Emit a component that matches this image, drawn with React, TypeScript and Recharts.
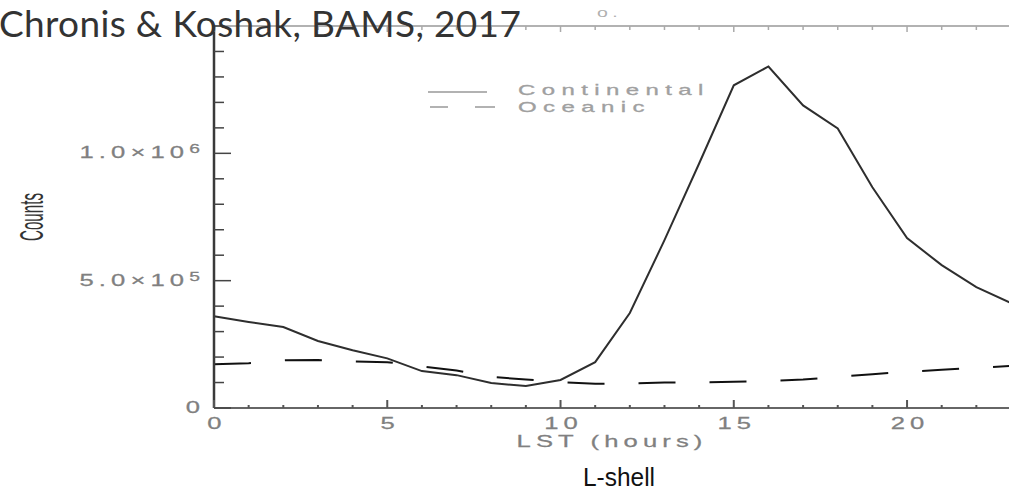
import React from 'react';
import { LineChart, Line, XAxis, YAxis, Legend } from 'recharts';

// local solar time, one point per hour
const hours = [0, 1, 2, 3, 4, 5, 6, 7, 8, 9, 10, 11, 12, 13, 14, 15, 16, 17, 18, 19, 20, 21, 22, 23];

const continental = [
  360000, 338000, 318000, 263000, 227000, 195000, 145000, 129000, 98000, 86000, 110000, 180000,
  373000, 659000, 960000, 1267000, 1341000, 1188000, 1098000, 867000, 667000, 561000, 475000, 412000,
];

const oceanic = [
  172000, 176000, 187000, 188000, 183000, 180000, 163000, 147000, 122000, 112000, 102000, 95000,
  96000, 100000, 101000, 103000, 106000, 112000, 122000, 133000, 142000, 150000, 158000, 165000,
];

const xMajor = [0, 5, 10, 15, 20];
const yTicks = [0, 100000, 200000, 300000, 400000, 500000, 600000, 700000, 800000, 900000,
  1000000, 1100000, 1200000, 1300000, 1400000, 1500000];
const yLabels: Record<number, [string, string]> = {
  0: ['0', ''],
  500000: ['5.0×10', '5'],
  1000000: ['1.0×10', '6'],
};

const seriesNames = { continental: 'Continental', oceanic: 'Oceanic' };

const data = hours.map((h, i) => ({ hour: h, continental: continental[i], oceanic: oceanic[i] }));

const labelFont = {
  fontFamily: '"Liberation Sans", Arial, sans-serif',
  fontSize: 16,
  fill: '#808080',
  stroke: '#808080',
  strokeWidth: 0.25,
  letterSpacing: 3.2,
};

function BottomTick(props: any) {
  const { x, y, payload } = props;
  const major = xMajor.includes(payload.value);
  return (
    <g>
      <line x1={x} x2={x} y1={y} y2={y - (major ? 8 : 3)} stroke="#555" strokeWidth={2} />
      {major && (
        <g transform={`translate(${x + 3},${y + 21}) scale(1.6,1)`}>
          <text textAnchor="middle" {...labelFont}>{payload.value}</text>
        </g>
      )}
    </g>
  );
}

function TopTick(props: any) {
  const { x, y, payload } = props;
  const major = xMajor.includes(payload.value);
  return <line x1={x} x2={x} y1={y} y2={y + (major ? 6 : 4)} stroke="#aaa" strokeWidth={1.5} />;
}

function LeftTick(props: any) {
  const { x, y, payload } = props;
  const label = yLabels[payload.value];
  return (
    <g>
      <line x1={x} x2={x + (label ? 17 : 10)} y1={y} y2={y} stroke="#444" strokeWidth={1.5} />
      {label && (
        <g transform={`translate(${x - 9},${y + 5}) scale(1.6,1)`}>
          <text textAnchor="end" {...labelFont}>
            {label[0]}
            {label[1] && (
              <tspan fontSize={12} dy={-5}>{label[1]}</tspan>
            )}
          </text>
        </g>
      )}
    </g>
  );
}

function RightTick(props: any) {
  const { x, y, payload } = props;
  const major = payload.value % 500000 === 0;
  return <line x1={x} x2={x - (major ? 16 : 12)} y1={y} y2={y} stroke="#555" strokeWidth={1.5} />;
}

function LegendBox() {
  const text = {
    fontFamily: '"Liberation Sans", Arial, sans-serif',
    fontSize: 15,
    fill: '#a0a0a0',
    stroke: '#a0a0a0',
    strokeWidth: 0.3,
    letterSpacing: 4,
  };
  return (
    <svg width={320} height={40}>
      <line x1={8} x2={67} y1={14} y2={14} stroke="#999" strokeWidth={1.5} />
      <line x1={10} x2={28} y1={29} y2={29} stroke="#999" strokeWidth={1.5} />
      <line x1={55} x2={75} y1={29} y2={29} stroke="#999" strokeWidth={1.5} />
      <g transform="translate(98,17) scale(1.6,1)">
        <text {...text}>{seriesNames.continental}</text>
      </g>
      <g transform="translate(98,34) scale(1.6,1)">
        <text {...text}>{seriesNames.oceanic}</text>
      </g>
    </svg>
  );
}

export default function App() {
  return (
    <div style={{ position: 'absolute', left: 0, top: 0, width: 1009, height: 492, overflow: 'hidden', background: '#fff' }}>
      <LineChart width={1020} height={492} data={data} margin={{ top: 25, right: 8, left: 213, bottom: 83 }}>
        <XAxis
          dataKey="hour"
          type="number"
          domain={[0, 23]}
          ticks={hours}
          interval={0}
          height={1}
          tickSize={0}
          tickMargin={0}
          tickLine={false}
          axisLine={{ stroke: '#666', strokeWidth: 2 }}
          tick={<BottomTick />}
        />
        <XAxis
          xAxisId="top"
          orientation="top"
          dataKey="hour"
          type="number"
          domain={[0, 23]}
          ticks={hours}
          interval={0}
          height={1}
          tickSize={0}
          tickMargin={0}
          tickLine={false}
          axisLine={{ stroke: '#999', strokeWidth: 1.5 }}
          tick={<TopTick />}
        />
        <YAxis
          type="number"
          domain={[0, 1500000]}
          ticks={yTicks}
          interval={0}
          width={1}
          tickSize={0}
          tickMargin={0}
          tickLine={false}
          axisLine={{ stroke: '#3a3a3a', strokeWidth: 2.5 }}
          tick={<LeftTick />}
        />
        <YAxis
          yAxisId="right"
          orientation="right"
          type="number"
          domain={[0, 1500000]}
          ticks={yTicks}
          interval={0}
          width={1}
          tickSize={0}
          tickMargin={0}
          tickLine={false}
          axisLine={{ stroke: '#666', strokeWidth: 2 }}
          tick={<RightTick />}
        />
        <Legend
          layout="vertical"
          align="center"
          verticalAlign="middle"
          wrapperStyle={{ left: 420, top: 78, width: 320 }}
          content={() => <LegendBox />}
        />
        <Line
          dataKey="continental"
          name={seriesNames.continental}
          stroke="#2e2e2e"
          strokeWidth={2}
          dot={false}
          isAnimationActive={false}
        />
        <Line
          dataKey="oceanic"
          name={seriesNames.oceanic}
          stroke="#111"
          strokeWidth={2}
          strokeDasharray="37 34"
          dot={false}
          isAnimationActive={false}
        />
      </LineChart>

      {/* axis titles and caption */}
      <svg width={1009} height={492} style={{ position: 'absolute', left: 0, top: 0, pointerEvents: 'none' }}>
        <text
          x={43}
          y={217}
          transform="rotate(-90 43 217)"
          textAnchor="middle"
          fontFamily='"Liberation Sans", Arial, sans-serif'
          fontSize={34}
          textLength={48}
          lengthAdjust="spacingAndGlyphs"
          fill="#333"
        >
          Counts
        </text>
        <g transform="translate(612,447) scale(1.6,1)">
          <text textAnchor="middle" {...labelFont}>LST (hours)</text>
        </g>
        <text
          x={619}
          y={486}
          textAnchor="middle"
          fontFamily='"Liberation Sans", Arial, sans-serif'
          fontSize={25}
          textLength={72}
          lengthAdjust="spacingAndGlyphs"
          fill="#111"
        >
          L-shell
        </text>
        <g transform="translate(597,17) scale(1.5,1)">
          <text fontFamily='"Liberation Sans", Arial, sans-serif' fontSize={13} fill="#b0b0b0" letterSpacing={3}>o.</text>
        </g>
        <text x={-1} y={37} fontFamily='Lato, "Open Sans", sans-serif' fontSize={37} letterSpacing={0.35} fill="#333">
          Chronis &amp; Koshak, BAMS, 2017
        </text>
      </svg>
    </div>
  );
}
